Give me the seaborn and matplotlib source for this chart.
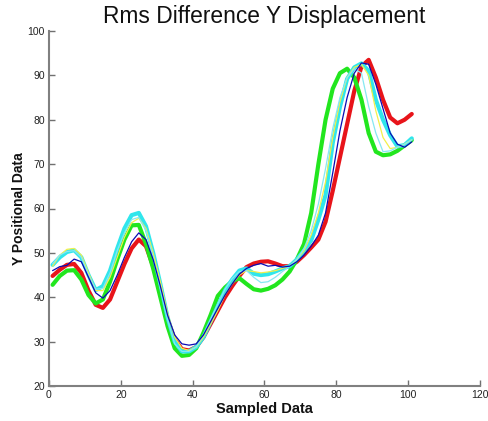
import numpy as np
import pandas as pd
import matplotlib
matplotlib.use("Agg")
import matplotlib.pyplot as plt
import seaborn as sns

# sample positions (every 2 samples)
x = list(range(1, 102, 2))

red = [44.8, 46.2, 47.3, 47.5, 45.5, 41.5, 38.3, 37.6, 39.5, 43.5,
       47.5, 51.0, 53.0, 51.5, 47.0, 41.5, 35.0, 30.5, 28.3, 28.0,
       28.8, 31.0, 34.0, 37.0, 40.0, 42.5, 44.8, 46.8, 47.6, 48.0,
       48.1, 47.6, 47.0, 47.0, 48.0, 49.5, 51.2, 53.0, 57.0, 64.0,
       71.5, 79.0, 86.5, 92.0, 93.5, 89.5, 84.5, 80.5, 79.2, 80.0, 81.3]

blue = [46.0, 46.9, 47.2, 48.6, 48.0, 44.5, 41.0, 39.8, 41.5, 45.0,
        49.0, 52.5, 54.5, 53.0, 48.5, 42.5, 36.0, 31.5, 29.5, 29.2,
        29.5, 31.5, 34.5, 37.5, 40.5, 43.0, 45.2, 46.5, 47.2, 47.6,
        47.0, 47.2, 46.8, 47.0, 48.0, 49.5, 51.5, 54.0, 59.0, 68.0,
        77.5, 85.0, 90.5, 92.8, 92.5, 88.0, 82.5, 77.0, 74.5, 73.8, 75.0]

yellow = [47.0, 49.5, 50.8, 51.0, 49.5, 45.5, 41.5, 41.5, 44.5, 49.0,
          53.5, 56.8, 57.8, 55.5, 50.0, 43.5, 36.5, 31.0, 28.5, 28.0,
          28.8, 31.0, 34.0, 37.0, 40.5, 43.0, 45.0, 46.0, 45.8, 45.5,
          45.7, 46.0, 46.5, 47.0, 48.5, 50.5, 54.0, 59.0, 66.0, 76.0,
          84.0, 89.5, 91.8, 92.5, 90.0, 82.0, 76.0, 73.5, 73.8, 74.5, 75.5]

lightcyan = [47.5, 49.5, 50.3, 50.5, 49.0, 45.0, 41.8, 42.0, 45.5, 50.5,
             54.5, 57.5, 58.0, 55.0, 49.0, 42.0, 35.0, 29.5, 27.8, 27.8,
             28.8, 31.5, 35.0, 38.5, 41.8, 44.2, 45.8, 46.0, 44.5, 43.3,
             43.5, 44.5, 45.8, 47.0, 48.5, 51.0, 55.0, 61.0, 69.0, 78.0,
             85.0, 89.5, 91.5, 90.5, 83.0, 77.0, 72.8, 73.0, 73.8, 74.5, 75.5]

green = [42.8, 44.8, 46.0, 46.1, 44.0, 40.5, 38.6, 39.5, 43.5, 48.5,
         53.0, 56.2, 56.3, 52.0, 46.5, 40.0, 33.5, 28.5, 26.8, 27.0,
         28.5, 32.0, 36.0, 40.3, 42.2, 43.6, 44.3, 43.0, 41.8, 41.5,
         41.9, 42.7, 44.0, 45.8, 48.5, 52.0, 59.0, 70.0, 80.0, 87.0,
         90.5, 91.5, 89.5, 84.5, 77.0, 72.8, 72.0, 72.2, 73.0, 74.2, 75.4]

cyan = [47.3, 49.0, 50.2, 50.6, 49.0, 45.0, 41.6, 42.5, 46.0, 51.0,
        55.5, 58.5, 59.0, 56.0, 50.0, 43.0, 35.5, 30.0, 27.8, 27.8,
        28.8, 31.0, 34.5, 38.0, 41.5, 44.0, 46.0, 46.5, 45.3, 45.0,
        45.2, 45.8, 46.5, 47.0, 48.5, 50.5, 52.8, 57.5, 63.0, 74.8,
        82.9, 89.2, 91.8, 92.7, 91.0, 84.5, 80.0, 76.5, 74.0, 74.3, 75.8]

xticks = [0, 20, 40, 60, 80, 100, 120]
yticks = [20, 30, 40, 50, 60, 70, 80, 90, 100]

sns.set_style("ticks")
plt.rcParams['font.family'] = ['Liberation Sans', 'DejaVu Sans']

fig = plt.figure(figsize=(4.89, 4.21), dpi=100)
ax = fig.add_axes([49/489, 35/421, 431/489, 355/421])

series = [
    (red, "#e8141a", 3.0),
    (green, "#22e61e", 3.0),
    (cyan, "#30e6ec", 3.0),
    (yellow, "#f2f04a", 0.9),
    (lightcyan, "#86e8f2", 0.9),
    (blue, "#0a0ab4", 0.9),
]
for vals, col, lw in series:
    sns.lineplot(x=x, y=vals, ax=ax, color=col, linewidth=lw, sort=False)

ax.set_xlim(0, 120)
ax.set_ylim(20, 100)
ax.set_xticks(xticks)
ax.set_yticks(yticks)
ax.tick_params(direction="in", length=4, width=1, colors="#707070",
               labelcolor="#222222", labelsize=7.5, pad=3)
sns.despine(ax=ax)
for s in ["left", "bottom"]:
    ax.spines[s].set_color("#808080")
    ax.spines[s].set_linewidth(1.5)

ax.set_title("Rms Difference Y Displacement", fontsize=16.4, pad=6, color="#111111")
ax.set_xlabel("Sampled Data", fontsize=10.5, fontweight="bold", labelpad=1, color="#111111")
ax.set_ylabel("Y Positional Data", fontsize=10, fontweight="bold", labelpad=1, color="#111111")

fig.savefig("out.png", dpi=100)
